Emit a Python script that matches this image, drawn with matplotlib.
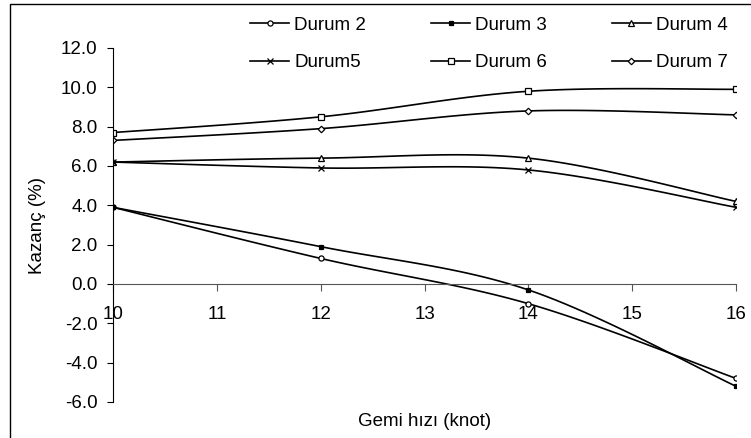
import matplotlib
matplotlib.use('Agg')
import matplotlib.pyplot as plt
from matplotlib.patches import Rectangle
import numpy as np

plt.rcParams['font.family'] = ['Liberation Sans', 'DejaVu Sans']
plt.rcParams['font.size'] = 13.5

speed = [10, 12, 14, 16]
labels = ['Durum 2', 'Durum 3', 'Durum 4', 'Durum5', 'Durum 6', 'Durum 7']
durum2 = [3.9, 1.3, -1.0, -4.8]
durum3 = [3.9, 1.9, -0.3, -5.2]
durum4 = [6.2, 6.4, 6.4, 4.2]
durum5 = [6.2, 5.9, 5.8, 3.9]
durum6 = [7.7, 8.5, 9.8, 9.9]
durum7 = [7.3, 7.9, 8.8, 8.6]
series = [durum2, durum3, durum4, durum5, durum6, durum7]

# marker styles: (marker, size, facecolor)
styles = [('o', 3.7, 'white'), ('s', 2.3, 'black'), ('^', 4.3, 'white'),
          ('x', 4.5, 'black'), ('s', 3.7, 'white'), ('D', 3.3, 'white')]


def smooth(x, y, n=25):
    # excel-like smoothed line (bezier through the points)
    pts = np.column_stack([x, y]).astype(float)
    P = np.vstack([pts[0], pts, pts[-1]])
    out = []
    for i in range(len(pts) - 1):
        p0, p1, p2, p3 = P[i], P[i + 1], P[i + 2], P[i + 3]
        c1 = p1 + (p2 - p0) / 6
        c2 = p2 - (p3 - p1) / 6
        t = np.linspace(0, 1, n)[:, None]
        seg = (1 - t)**3 * p1 + 3 * (1 - t)**2 * t * c1 + 3 * (1 - t) * t**2 * c2 + t**3 * p2
        out.append(seg if i == 0 else seg[1:])
    return np.vstack(out), n - 1


fig = plt.figure(figsize=(7.51, 4.38), dpi=100)
ax = fig.add_axes([113 / 751, 36 / 438, 623 / 751, 354 / 438])

lines = []
for y, lab, (m, ms, fc) in zip(series, labels, styles):
    curve, step = smooth(speed, y)
    idx = list(range(0, len(curve), step))
    ln, = ax.plot(curve[:, 0], curve[:, 1], color='black', lw=1.2, label=lab,
                  marker=m, ms=ms, mfc=fc, mec='black', mew=0.9, markevery=idx)
    lines.append(ln)

ax.set_xlim(10, 16)
ax.set_ylim(-6, 12)
ax.set_xticks(range(10, 17))
ax.set_yticks(np.arange(-6, 13, 2))
ax.yaxis.set_major_formatter(matplotlib.ticker.FormatStrFormatter('%.1f'))

ax.spines['top'].set_visible(False)
ax.spines['right'].set_visible(False)
ax.spines['bottom'].set_position(('data', 0))
ax.spines['bottom'].set_color('#555555')
ax.spines['left'].set_color('black')
ax.tick_params(axis='x', direction='out', length=5, pad=11, labelcolor='black', color='#555555')
ax.tick_params(axis='y', direction='out', length=4.5, pad=6.5)

ax.set_xlabel('Gemi hızı (knot)')
ax.xaxis.set_label_coords(0.5, -0.03)
ax.set_ylabel('Kazanç (%)')
ax.yaxis.set_label_coords(-0.108, 0.5)

# legend fills column-wise, so reorder to get rows 2-3-4 / 5-6-7
order = [0, 3, 1, 4, 2, 5]
fig.legend([lines[i] for i in order], [labels[i] for i in order],
           loc='upper left', bbox_to_anchor=(241 / 751, 1 - 7 / 438), ncol=3,
           frameon=False, handlelength=2.08, handletextpad=0.27,
           columnspacing=3.45, labelspacing=1.1, borderpad=0, numpoints=1)

fig.add_artist(Rectangle((10 / 751, -0.1), 1.2, 1.1 - 4 / 438, fill=False,
                         edgecolor='black', lw=1, transform=fig.transFigure))

fig.savefig('out.png', dpi=100)
